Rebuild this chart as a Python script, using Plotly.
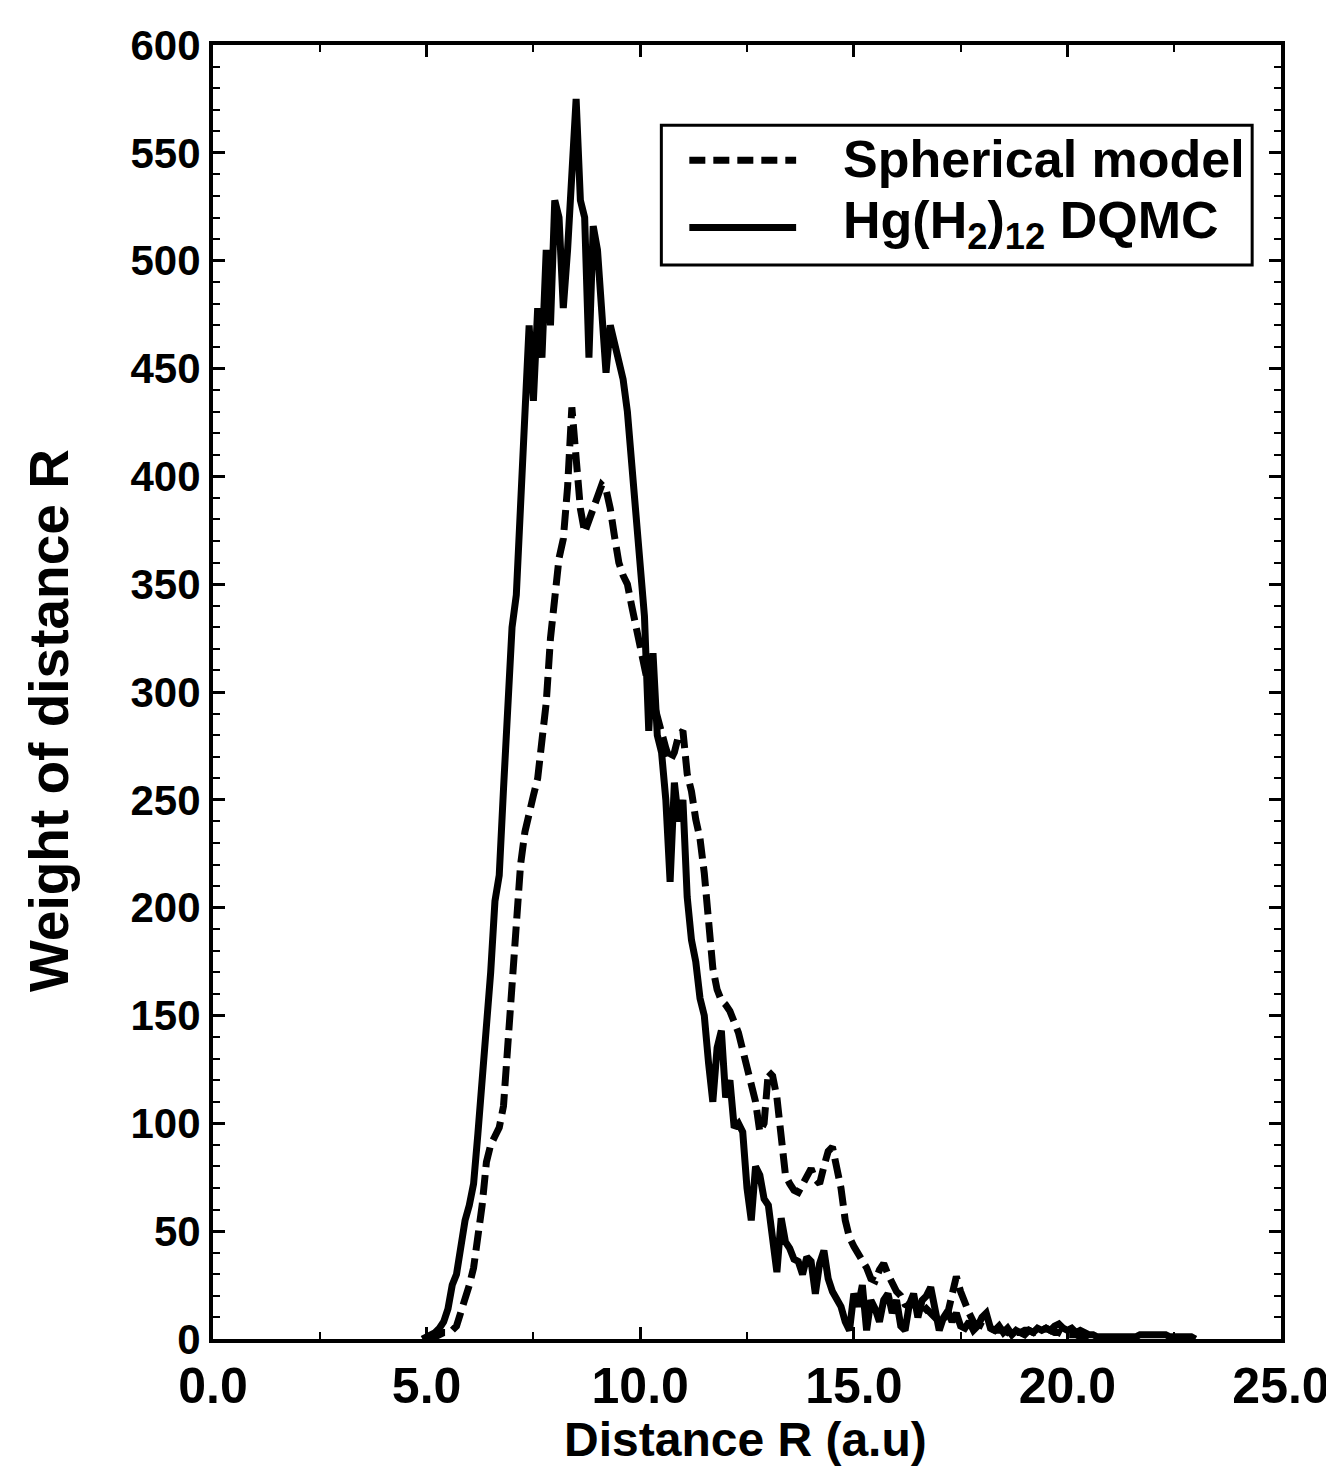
import numpy as np
import plotly.graph_objects as go

# ---- data -------------------------------------------------------------
# DQMC curve, sampled every 0.1 a.u. from 4.9 to 23.0
r_dqmc = np.round(np.arange(4.9, 23.0001, 0.1), 2)
w_dqmc = [
    0, 1, 2, 3, 5, 8, 14, 25, 30, 42,            # 4.9 - 5.8
    55, 62, 72, 95, 118, 140, 170, 203, 215, 255,  # 5.9 - 6.8
    300, 330, 345, 385, 440, 470, 435, 478, 455, 505,  # 6.9 - 7.8
    470, 528, 520, 478, 505, 540, 575, 528, 520, 455,  # 7.9 - 8.8
    516, 505, 480, 448, 470, 462, 455, 445, 430, 405,  # 8.9 - 9.8
    380, 350, 335, 282, 318, 280, 272, 250, 212, 258,  # 9.9 - 10.8
    240, 250, 205, 185, 175, 158, 150, 128, 110, 135,  # 10.9 - 11.8
    143, 112, 120, 98, 100, 96, 70, 55, 80, 76,        # 11.9 - 12.8
    65, 62, 48, 31, 56, 45, 42, 37, 36, 30,            # 12.9 - 13.8
    38, 36, 21, 35, 41, 28, 22, 18, 15, 8,             # 13.9 - 14.8
    4, 21, 15, 25, 4, 18, 14, 8, 18, 21,               # 14.9 - 15.8
    12, 18, 6, 4, 16, 21, 10, 18, 20, 24,              # 15.9 - 16.8
    12, 4, 10, 13, 8, 12, 6, 5, 8, 4,                  # 16.9 - 17.8
    6, 10, 12, 5, 4, 6, 3, 5, 2, 4,                    # 17.9 - 18.8
    3, 2, 4, 3, 5, 4, 5, 4, 6, 7,                      # 18.9 - 19.8
    5, 4, 5, 3, 4, 3, 2, 2, 1, 1,                      # 19.9 - 20.8
    1, 1, 1, 1, 1, 1, 1, 1, 2, 2,                      # 20.9 - 21.8
    2, 2, 2, 2, 2, 1, 1, 1, 1, 1,                      # 21.9 - 22.8
    1, 0,                                              # 22.9 - 23.0
]

# Spherical model curve, sampled every 0.1 a.u. from 5.0 to 21.0
r_sph = np.round(np.arange(5.0, 21.0001, 0.1), 2)
w_sph = [
    0, 0, 1, 2, 3, 3, 4, 6, 12, 18,                    # 5.0 - 5.9
    25, 33, 45, 62, 82, 90, 94, 98, 108, 135,          # 6.0 - 6.9
    165, 200, 220, 235, 245, 252, 260, 275, 295, 325,  # 7.0 - 7.9
    345, 362, 371, 395, 432, 405, 385, 374, 380, 385,  # 8.0 - 8.9
    390, 396, 394, 385, 372, 360, 354, 350, 340, 330,  # 9.0 - 9.9
    318, 310, 302, 296, 288, 280, 274, 268, 272, 280,  # 10.0 - 10.9
    282, 262, 254, 241, 232, 216, 192, 172, 162, 157,  # 11.0 - 11.9
    155, 152, 147, 142, 134, 126, 120, 110, 96, 100,   # 12.0 - 12.9
    124, 122, 112, 92, 76, 72, 69, 68, 72, 76,         # 13.0 - 13.9
    79, 74, 72, 80, 87, 89, 80, 70, 55, 47,            # 14.0 - 14.9
    43, 40, 36, 33, 28, 27, 32, 35, 30, 26,            # 15.0 - 15.9
    22, 20, 16, 15, 17, 14, 12, 14, 12, 10,            # 16.0 - 16.9
    11, 9, 12, 20, 29, 22, 16, 12, 8, 7,               # 17.0 - 17.9
    6, 5, 5, 4, 4, 4, 3, 4, 3, 3,                      # 18.0 - 18.9
    4, 4, 3, 3, 4, 5, 4, 3, 3, 2,                      # 19.0 - 19.9
    2, 2, 2, 1, 1, 1, 1, 0, 0, 0, 0,                   # 20.0 - 21.0
]

x_ticks = [0, 5, 10, 15, 20, 25]
x_tick_labels = ["0.0", "5.0", "10.0", "15.0", "20.0", "25.0"]
y_ticks = [0, 50, 100, 150, 200, 250, 300, 350, 400, 450, 500, 550, 600]

name_sph = "Spherical model"
name_dqmc = "Hg(H<sub>2</sub>)<sub>12</sub> DQMC"

# ---- figure -----------------------------------------------------------
FONT = "Liberation Sans, Arial, Helvetica, sans-serif"

fig = go.Figure()
fig.add_trace(go.Scatter(
    x=r_sph, y=w_sph, mode="lines", name=name_sph,
    line=dict(color="black", width=7, dash="20px,8px"),
    showlegend=False,
))
fig.add_trace(go.Scatter(
    x=r_dqmc, y=w_dqmc, mode="lines", name=name_dqmc,
    line=dict(color="black", width=7),
    showlegend=False,
))

axis_common = dict(
    showline=True, linecolor="black", linewidth=4, mirror="ticks",
    ticks="inside", tickcolor="black", showgrid=False, zeroline=False,
)

fig.update_xaxes(
    range=[0, 25], tickvals=x_ticks, ticktext=x_tick_labels,
    ticklen=12, tickwidth=3,
    minor=dict(dtick=2.5, ticks="inside", ticklen=7, tickwidth=2, tickcolor="black", showgrid=False),
    tickfont=dict(family=FONT, size=50, color="black", weight="bold"),
    **axis_common,
)
fig.update_yaxes(
    range=[0, 600], tickvals=y_ticks,
    ticklen=12, tickwidth=3,
    minor=dict(dtick=10, ticks="inside", ticklen=7, tickwidth=2, tickcolor="black", showgrid=False),
    tickfont=dict(family=FONT, size=42, color="black", weight="bold"),
    **axis_common,
)

# manual legend (paper coordinates)
fig.add_shape(type="rect", xref="paper", yref="paper",
              x0=0.4198, x1=0.973, y0=0.830, y1=0.938,
              line=dict(color="black", width=3), fillcolor="white")
fig.add_shape(type="line", xref="paper", yref="paper",
              x0=0.446, x1=0.546, y0=0.911, y1=0.911,
              line=dict(color="black", width=7, dash="16px,8px"))
fig.add_shape(type="line", xref="paper", yref="paper",
              x0=0.446, x1=0.546, y0=0.859, y1=0.859,
              line=dict(color="black", width=7))
fig.add_annotation(xref="paper", yref="paper", x=0.588, y=0.912,
                   xanchor="left", yanchor="middle", showarrow=False,
                   text=name_sph,
                   font=dict(family=FONT, size=52, color="black", weight="bold"))
fig.add_annotation(xref="paper", yref="paper", x=0.588, y=0.862,
                   xanchor="left", yanchor="middle", showarrow=False,
                   text=name_dqmc,
                   font=dict(family=FONT, size=52, color="black", weight="bold"))

# axis titles
fig.add_annotation(xref="paper", yref="paper", x=0.499, y=-0.078,
                   xanchor="center", yanchor="middle", showarrow=False,
                   text="Distance R (a.u)",
                   font=dict(family=FONT, size=48, color="black", weight="bold"))
fig.add_annotation(xref="paper", yref="paper", x=-0.153, y=0.478,
                   xanchor="center", yanchor="middle", showarrow=False,
                   textangle=-90, text="Weight of distance R",
                   font=dict(family=FONT, size=55, color="black", weight="bold"))

fig.update_layout(
    width=1334, height=1477,
    margin=dict(l=205, r=57, t=37, b=146),
    paper_bgcolor="white", plot_bgcolor="white",
    showlegend=False,
)

fig.write_html("out.html")
